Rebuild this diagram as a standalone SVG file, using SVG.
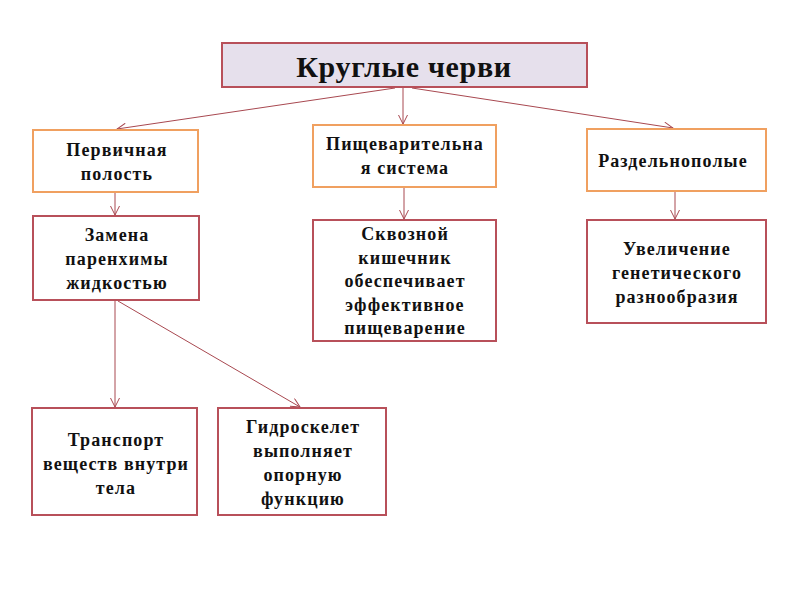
<svg xmlns="http://www.w3.org/2000/svg" width="800" height="600" viewBox="0 0 800 600">
<defs>
<marker id="arr" markerWidth="12" markerHeight="10" refX="10" refY="5" orient="auto" markerUnits="userSpaceOnUse">
<polyline points="1,0.5 10,5 1,9.5" fill="none" stroke="#A84850" stroke-width="1"/>
</marker>
<style>
.t{font-family:"Liberation Serif","Times New Roman",serif;font-weight:bold;font-size:18px;fill:#111;text-anchor:middle;letter-spacing:1.1px}
.h{font-size:30px;letter-spacing:0.7px}
.o{fill:#fff;stroke:#F0A060;stroke-width:2}
.r{fill:#fff;stroke:#B8505A;stroke-width:2}
.c{stroke:#A84850;stroke-width:1;fill:none;marker-end:url(#arr)}
</style>
</defs>
<rect width="800" height="600" fill="#fff"/>
<g id="connectors">
<line class="c" x1="395" y1="88" x2="117" y2="129"/>
<line class="c" x1="403" y1="88" x2="403" y2="124"/>
<line class="c" x1="412" y1="88" x2="673" y2="128"/>
<line class="c" x1="115" y1="193" x2="115" y2="215"/>
<line class="c" x1="404" y1="188" x2="404" y2="219"/>
<line class="c" x1="675" y1="192" x2="675" y2="219"/>
<line class="c" x1="115" y1="301" x2="115" y2="407"/>
<line class="c" x1="118" y1="301" x2="300" y2="407"/>
</g>
<g id="title">
<rect x="222" y="43" width="365" height="44" fill="#E6E0EC" stroke="#B8505A" stroke-width="2"/>
<text class="t h" x="404" y="77">Круглые черви</text>
</g>
<g id="n1">
<rect class="o" x="33" y="130" width="165" height="62"/>
<text class="t" x="117" y="156">Первичная</text>
<text class="t" x="117" y="180">полость</text>
</g>
<g id="n2">
<rect class="o" x="313" y="125" width="183" height="62"/>
<text class="t" x="405" y="150">Пищеварительна</text>
<text class="t" x="405" y="174">я система</text>
</g>
<g id="n3">
<rect class="o" x="587" y="129" width="179" height="62"/>
<text class="t" x="673" y="167">Раздельнополые</text>
</g>
<g id="n4">
<rect class="r" x="33" y="216" width="166" height="84"/>
<text class="t" x="117" y="241">Замена</text>
<text class="t" x="117" y="265">паренхимы</text>
<text class="t" x="117" y="289">жидкостью</text>
</g>
<g id="n5">
<rect class="r" x="313" y="220" width="183" height="121"/>
<text class="t" x="405" y="240">Сквозной</text>
<text class="t" x="405" y="264">кишечник</text>
<text class="t" x="405" y="287">обеспечивает</text>
<text class="t" x="405" y="311">эффективное</text>
<text class="t" x="405" y="334">пищеварение</text>
</g>
<g id="n6">
<rect class="r" x="587" y="220" width="179" height="103"/>
<text class="t" x="677" y="255">Увеличение</text>
<text class="t" x="677" y="279">генетического</text>
<text class="t" x="677" y="303">разнообразия</text>
</g>
<g id="n7">
<rect class="r" x="32" y="408" width="165" height="107"/>
<text class="t" x="116" y="446">Транспорт</text>
<text class="t" x="116" y="470">веществ внутри</text>
<text class="t" x="116" y="494">тела</text>
</g>
<g id="n8">
<rect class="r" x="218" y="408" width="168" height="107"/>
<text class="t" x="303" y="433">Гидроскелет</text>
<text class="t" x="303" y="457">выполняет</text>
<text class="t" x="303" y="481">опорную</text>
<text class="t" x="303" y="505">функцию</text>
</g>
</svg>
